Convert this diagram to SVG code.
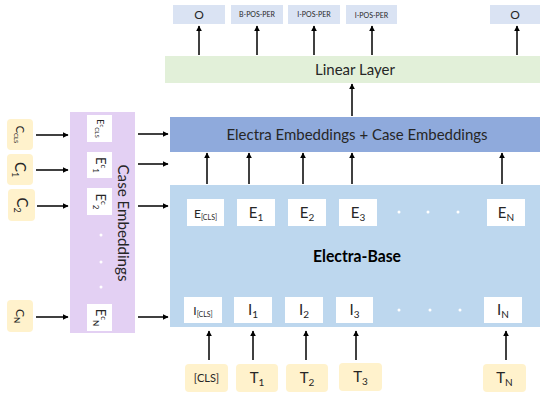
<svg xmlns="http://www.w3.org/2000/svg" width="542" height="394" viewBox="0 0 542 394">
  <style>
    text { font-family: Lato, "Open Sans", "Liberation Sans", sans-serif; fill: #262626; }
    .out { fill: #dae3f3; }
    .tok { fill: #fff2cc; }
    .cell { fill: #ffffff; }
    .dot { fill: #ffffff; }
    .arrow { stroke: #000000; stroke-width: 1.5; fill: none; marker-end: url(#head); }
  </style>
  <defs>
    <marker id="head" viewBox="0 0 10 10" refX="9" refY="5" markerWidth="4" markerHeight="4" orient="auto" markerUnits="strokeWidth">
      <path d="M0,0 L10,5 L0,10 z" fill="#000000"/>
    </marker>
  </defs>

  <rect width="542" height="394" fill="#ffffff"/>

  <!-- output tags -->
  <g id="out-0"><rect class="out" x="173" y="5" width="52" height="19"/><text x="199" y="19" font-size="12" text-anchor="middle">O</text></g>
  <g id="out-1"><rect class="out" x="231" y="5" width="52" height="19"/><text x="257" y="17" font-size="7" text-anchor="middle">B-POS-PER</text></g>
  <g id="out-2"><rect class="out" x="288" y="5" width="52" height="19"/><text x="314" y="17" font-size="7" text-anchor="middle">I-POS-PER</text></g>
  <g id="out-3"><rect class="out" x="346" y="5" width="51" height="19"/><text x="371.5" y="17.5" font-size="7" text-anchor="middle">I-POS-PER</text></g>
  <g id="out-n"><rect class="out" x="490" y="5" width="50" height="19"/><text x="515" y="19" font-size="12" text-anchor="middle">O</text></g>

  <!-- linear layer -->
  <g id="linear">
    <rect x="165" y="56" width="375" height="27" fill="#e2f0d9"/>
    <text x="355" y="75" font-size="15" text-anchor="middle" textLength="80" lengthAdjust="spacingAndGlyphs">Linear Layer</text>
  </g>

  <!-- combined embeddings -->
  <g id="combined">
    <rect x="170" y="117" width="370" height="35" fill="#8faadc"/>
    <text x="357" y="140" font-size="15" text-anchor="middle" textLength="261" lengthAdjust="spacingAndGlyphs">Electra Embeddings + Case Embeddings</text>
  </g>

  <!-- encoder -->
  <g id="electra-base">
    <rect x="170" y="185" width="370" height="142" fill="#bdd7ee"/>
    <text x="357" y="262" font-size="17" font-weight="bold" text-anchor="middle" style="fill:#000000" textLength="88" lengthAdjust="spacingAndGlyphs">Electra-Base</text>
  </g>

  <!-- output embeddings -->
  <g id="e-cls"><rect class="cell" x="187" y="199" width="37" height="27"/><text x="205.5" y="218" font-size="12" text-anchor="middle">E<tspan font-size="7" dy="2">[CLS]</tspan></text></g>
  <g id="e-1"><rect class="cell" x="237" y="199" width="38" height="27"/><text x="256" y="218" font-size="15" text-anchor="middle">E<tspan font-size="10" dy="3">1</tspan></text></g>
  <g id="e-2"><rect class="cell" x="288" y="199" width="38" height="27"/><text x="307" y="218" font-size="15" text-anchor="middle">E<tspan font-size="10" dy="3">2</tspan></text></g>
  <g id="e-3"><rect class="cell" x="339" y="199" width="38" height="27"/><text x="358" y="218" font-size="15" text-anchor="middle">E<tspan font-size="10" dy="3">3</tspan></text></g>
  <g id="e-n"><rect class="cell" x="487" y="199" width="38" height="27"/><text x="506" y="218" font-size="15" text-anchor="middle">E<tspan font-size="10" dy="3">N</tspan></text></g>
  <g id="e-dots"><circle class="dot" cx="399" cy="212" r="1.5"/><circle class="dot" cx="428" cy="212" r="1.5"/><circle class="dot" cx="458" cy="212" r="1.5"/></g>

  <!-- input embeddings -->
  <g id="i-cls"><rect class="cell" x="184" y="297" width="38" height="26"/><text x="203" y="315" font-size="12" text-anchor="middle">I<tspan font-size="7" dy="2">[CLS]</tspan></text></g>
  <g id="i-1"><rect class="cell" x="234" y="297" width="38" height="26"/><text x="253" y="315" font-size="15" text-anchor="middle">I<tspan font-size="10" dy="3">1</tspan></text></g>
  <g id="i-2"><rect class="cell" x="285" y="297" width="38" height="26"/><text x="304" y="315" font-size="15" text-anchor="middle">I<tspan font-size="10" dy="3">2</tspan></text></g>
  <g id="i-3"><rect class="cell" x="336" y="297" width="37" height="26"/><text x="354.5" y="315" font-size="15" text-anchor="middle">I<tspan font-size="10" dy="3">3</tspan></text></g>
  <g id="i-n"><rect class="cell" x="484" y="297" width="38" height="26"/><text x="503" y="315" font-size="15" text-anchor="middle">I<tspan font-size="10" dy="3">N</tspan></text></g>
  <g id="i-dots"><circle class="dot" cx="399" cy="310" r="1.5"/><circle class="dot" cx="430" cy="310" r="1.5"/><circle class="dot" cx="460" cy="310" r="1.5"/></g>

  <!-- input tokens -->
  <g id="t-cls"><rect class="tok" x="185" y="364" width="43" height="28" rx="4"/><text x="206.5" y="382" font-size="11" text-anchor="middle">[CLS]</text></g>
  <g id="t-1"><rect class="tok" x="236" y="364" width="42" height="28" rx="4"/><text x="257" y="383" font-size="15" text-anchor="middle">T<tspan font-size="10" dy="3">1</tspan></text></g>
  <g id="t-2"><rect class="tok" x="286" y="364" width="42" height="28" rx="4"/><text x="307" y="383" font-size="15" text-anchor="middle">T<tspan font-size="10" dy="3">2</tspan></text></g>
  <g id="t-3"><rect class="tok" x="339" y="363" width="43" height="28" rx="4"/><text x="360.5" y="382" font-size="15" text-anchor="middle">T<tspan font-size="10" dy="3">3</tspan></text></g>
  <g id="t-n"><rect class="tok" x="483" y="364" width="43" height="28" rx="4"/><text x="504.5" y="383" font-size="15" text-anchor="middle">T<tspan font-size="10" dy="3">N</tspan></text></g>

  <!-- case inputs (labels turned 90 degrees) -->
  <g id="c-cls"><rect class="tok" x="7" y="119" width="26" height="31" rx="4"/><text transform="translate(20,134.5) rotate(90)" x="0" y="4" font-size="11" text-anchor="middle">C<tspan font-size="6" dy="2">CLS</tspan></text></g>
  <g id="c-1"><rect class="tok" x="7" y="154" width="26" height="31" rx="4"/><text transform="translate(20,169.5) rotate(90)" x="0" y="5" font-size="15" text-anchor="middle">C<tspan font-size="9" dy="3">1</tspan></text></g>
  <g id="c-2"><rect class="tok" x="8" y="189" width="27" height="32" rx="4"/><text transform="translate(21.5,205) rotate(90)" x="0" y="5" font-size="15" text-anchor="middle">C<tspan font-size="9" dy="3">2</tspan></text></g>
  <g id="c-n"><rect class="tok" x="7" y="300" width="26" height="32" rx="4"/><text transform="translate(20,316) rotate(90)" x="0" y="4" font-size="12" text-anchor="middle">C<tspan font-size="8" dy="2">N</tspan></text></g>

  <!-- case embedding panel -->
  <g id="case-embeddings">
    <rect x="70" y="112" width="65" height="221" fill="#e3d0f3"/>
    <text transform="translate(118,223) rotate(90)" x="0" y="0" font-size="15" text-anchor="middle" textLength="117" lengthAdjust="spacingAndGlyphs">Case Embeddings</text>
  </g>
  <g id="ec-cls"><rect class="cell" x="87" y="115" width="25" height="27"/><text transform="translate(99.5,128.5) rotate(90)" x="0" y="3" font-size="9" text-anchor="middle">E<tspan font-size="6" dy="-3">c</tspan><tspan font-size="6" dy="5">CLS</tspan></text></g>
  <g id="ec-1"><rect class="cell" x="87" y="152" width="25" height="26"/><text transform="translate(99.5,165) rotate(90)" x="0" y="4" font-size="13" text-anchor="middle">E<tspan font-size="8" dy="-5">c</tspan><tspan font-size="8" dy="8">1</tspan></text></g>
  <g id="ec-2"><rect class="cell" x="87" y="188" width="25" height="27"/><text transform="translate(99.5,201.5) rotate(90)" x="0" y="4" font-size="13" text-anchor="middle">E<tspan font-size="8" dy="-5">c</tspan><tspan font-size="8" dy="8">2</tspan></text></g>
  <g id="ec-n"><rect class="cell" x="87" y="304" width="25" height="27"/><text transform="translate(99.5,317.5) rotate(90)" x="0" y="4" font-size="13" text-anchor="middle">E<tspan font-size="8" dy="-5">c</tspan><tspan font-size="8" dy="8">N</tspan></text></g>
  <g id="ec-dots"><circle class="dot" cx="101" cy="235" r="1.5"/><circle class="dot" cx="101" cy="262" r="1.5"/><circle class="dot" cx="101" cy="287" r="1.5"/></g>

  <!-- connectors -->
  <g id="connectors">
    <line class="arrow" x1="199" y1="55" x2="199" y2="26"/>
    <line class="arrow" x1="257" y1="55" x2="257" y2="26"/>
    <line class="arrow" x1="314" y1="55" x2="314" y2="26"/>
    <line class="arrow" x1="372" y1="55" x2="372" y2="26"/>
    <line class="arrow" x1="517" y1="55" x2="517" y2="26"/>

    <line class="arrow" x1="352" y1="116" x2="352" y2="84"/>

    <line class="arrow" x1="207" y1="184" x2="207" y2="153"/>
    <line class="arrow" x1="249" y1="184" x2="249" y2="153"/>
    <line class="arrow" x1="303" y1="184" x2="303" y2="153"/>
    <line class="arrow" x1="352" y1="184" x2="352" y2="153"/>
    <line class="arrow" x1="502" y1="184" x2="502" y2="153"/>

    <line class="arrow" x1="209" y1="360" x2="209" y2="331"/>
    <line class="arrow" x1="253" y1="360" x2="253" y2="331"/>
    <line class="arrow" x1="306" y1="360" x2="306" y2="331"/>
    <line class="arrow" x1="356" y1="360" x2="356" y2="331"/>
    <line class="arrow" x1="506" y1="360" x2="506" y2="331"/>

    <line class="arrow" x1="36" y1="135" x2="68" y2="135"/>
    <line class="arrow" x1="36" y1="170" x2="68" y2="170"/>
    <line class="arrow" x1="37" y1="206" x2="68" y2="206"/>
    <line class="arrow" x1="36" y1="317" x2="68" y2="317"/>

    <line class="arrow" x1="138" y1="134" x2="168" y2="134"/>
    <line class="arrow" x1="138" y1="164" x2="168" y2="164"/>
    <line class="arrow" x1="138" y1="206" x2="168" y2="206"/>
    <line class="arrow" x1="138" y1="317" x2="168" y2="317"/>
  </g>
</svg>
